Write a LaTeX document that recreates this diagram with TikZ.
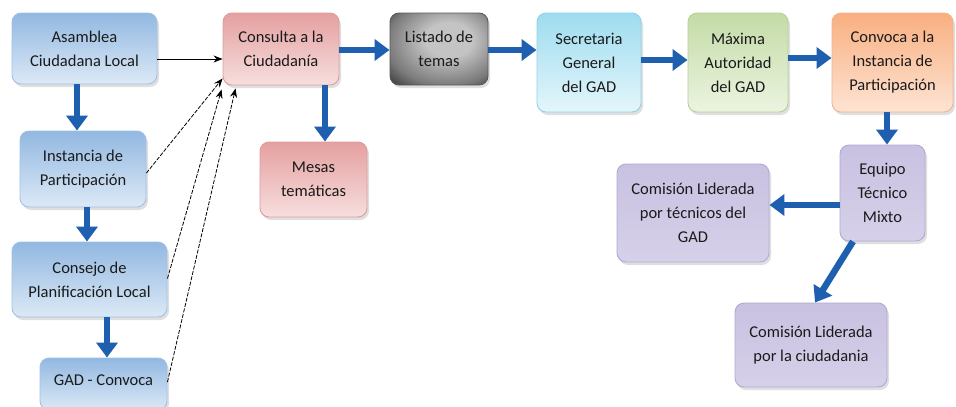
\documentclass[tikz,border=0pt]{standalone}
\usepackage{fontspec}
\setmainfont{Carlito}
\usetikzlibrary{arrows.meta,shadows,shadings,calc}
\definecolor{arrowblue}{HTML}{1F5FB0}
\definecolor{txt}{HTML}{1A1A1A}
\definecolor{bluetop}{HTML}{92B8E1}
\definecolor{bluebot}{HTML}{DCE9F6}
\definecolor{blueedge}{HTML}{9FC2E7}
\definecolor{pinktop}{HTML}{E5A0A0}
\definecolor{pinkbot}{HTML}{F7DEDE}
\definecolor{pinkedge}{HTML}{DE9C9C}
\definecolor{cyantop}{HTML}{9EDCEF}
\definecolor{cyanbot}{HTML}{E4F6FB}
\definecolor{cyanedge}{HTML}{8FD2E9}
\definecolor{greentop}{HTML}{C3DBA6}
\definecolor{greenbot}{HTML}{ECF4E1}
\definecolor{greenedge}{HTML}{B4D198}
\definecolor{orangetop}{HTML}{F9AF80}
\definecolor{orangebot}{HTML}{FDE4D4}
\definecolor{orangeedge}{HTML}{F3B38C}
\definecolor{purpletop}{HTML}{C9C1E1}
\definecolor{purplemid}{HTML}{EDEAF6}
\definecolor{purplebot}{HTML}{D6D0E9}
\definecolor{purpleedge}{HTML}{B2AAD2}
\definecolor{grayin}{HTML}{C4C4C4}
\definecolor{graymid}{HTML}{7A7A7A}
\definecolor{grayout}{HTML}{181818}
\pgfdeclareradialshading{grayglow}{\pgfpoint{6bp}{8bp}}{%
  color(0bp)=(grayin); color(12bp)=(grayin); color(30bp)=(graymid); color(44bp)=(grayout); color(70bp)=(grayout)}
\tikzset{
  box/.style={rectangle, rounded corners=9pt, line width=0.9pt, align=center,
    inner sep=0pt, text=txt, font=\fontsize{16.5}{24}\selectfont,
    drop shadow={opacity=0.25, shadow xshift=2pt, shadow yshift=-3pt}},
  bluebox/.style={box, draw=blueedge, top color=bluetop, bottom color=bluebot},
  pinkbox/.style={box, draw=pinkedge, top color=pinktop, bottom color=pinkbot},
  cyanbox/.style={box, draw=cyanedge, top color=cyantop, bottom color=cyanbot},
  greenbox/.style={box, draw=greenedge, top color=greentop, bottom color=greenbot},
  orangebox/.style={box, draw=orangeedge, top color=orangetop, bottom color=orangebot},
  purplebox/.style={box, draw=purpleedge, top color=purpletop, middle color=purplemid, bottom color=purplebot},
  graybox/.style={box, draw=gray!70!black, shading=grayglow},
  bigarrow/.style={draw=arrowblue, line width=6.5pt, -{Triangle[length=15pt,width=21pt]}, arrowblue},
  thinarrow/.style={draw=black, line width=0.8pt, -{Stealth[length=9pt,width=7pt]}},
  thindash/.style={thinarrow, dash pattern=on 4pt off 1.5pt}
}
\begin{document}
\begin{tikzpicture}[x=1pt,y=-1pt]
\useasboundingbox[fill=white] (0,0) rectangle (956,407);

\node[bluebox, minimum width=145pt, minimum height=71pt] (asam) at (84.5,48.5) {Asamblea\\Ciudadana Local};
\node[bluebox, minimum width=126pt, minimum height=76pt] (inst) at (83,169) {Instancia de\\Participación};
\node[bluebox, minimum width=155pt, minimum height=75pt] (cons) at (89.5,279.5) {Consejo de\\Planificación Local};
\node[bluebox, minimum width=127pt, minimum height=52pt] (gad) at (103.5,384) {\raisebox{7pt}{GAD - Convoca}};

\node[pinkbox, minimum width=116pt, minimum height=72pt] (consul) at (281,49) {Consulta a la\\Ciudadanía};
\node[pinkbox, minimum width=107pt, minimum height=75pt] (mesas) at (313.5,179.5) {Mesas\\temáticas};

\node[graybox, minimum width=98pt, minimum height=72pt] (list) at (439,49) {Listado de\\temas};
\node[cyanbox, minimum width=104pt, minimum height=99pt] (secre) at (589,62.5) {Secretaria\\General\\del GAD};
\node[greenbox, minimum width=100pt, minimum height=99pt] (maxi) at (738,62.5) {Máxima\\Autoridad\\del GAD};
\node[orangebox, minimum width=121pt, minimum height=99pt] (convo) at (892.5,62.5) {Convoca a la\\Instancia de\\Participación};

\node[purplebox, minimum width=85pt, minimum height=96pt] (equipo) at (882.5,193) {Equipo\\Técnico\\Mixto};
\node[purplebox, minimum width=152pt, minimum height=98pt] (comtec) at (693,213) {Comisión Liderada\\por técnicos del\\GAD};
\node[purplebox, minimum width=152pt, minimum height=84pt] (comciu) at (811,345) {Comisión Liderada\\por la ciudadania};

% thick blue arrows
\draw[bigarrow] ([xshift=-7.5pt]asam.south) -- ([xshift=-7.5pt]asam.south |- inst.north);
\draw[bigarrow] ([xshift=4pt]inst.south) -- ([xshift=4pt]inst.south |- cons.north);
\draw[bigarrow] ([xshift=17.5pt]cons.south) -- ([xshift=17.5pt]cons.south |- gad.north);
\draw[bigarrow] ([xshift=44pt]consul.south) -- ([xshift=44pt]consul.south |- mesas.north);
\draw[bigarrow] ([yshift=-1pt]consul.east) -- ([yshift=-1pt]consul.east -| list.west);
\draw[bigarrow] ([yshift=-1pt]list.east) -- ([yshift=-1pt]list.east -| secre.west);
\draw[bigarrow] ([yshift=2.5pt]secre.east) -- ([yshift=2.5pt]secre.east -| maxi.west);
\draw[bigarrow] ([yshift=4.5pt]maxi.east) -- ([yshift=4.5pt]maxi.east -| convo.west);
\draw[bigarrow] ([xshift=-5.5pt]convo.south) -- ([xshift=-5.5pt]convo.south |- equipo.north);
\draw[bigarrow] ([yshift=-12pt]equipo.west) -- ([yshift=-12pt]equipo.west -| comtec.east);
\draw[bigarrow] ([xshift=-29.5pt]equipo.south) -- ([xshift=4pt]comciu.north);

% thin black arrows
\draw[thinarrow] ([yshift=-10.5pt]asam.east) -- ([yshift=-10.5pt]asam.east -| consul.west);
\draw[thindash] ([yshift=-4pt]inst.east) -- ([yshift=7pt]consul.south west);
\draw[thindash] ([yshift=1pt]cons.east) -- ([xshift=-1pt,yshift=-4pt]consul.south west);
\draw[thindash] ([yshift=2pt]gad.east) -- ([xshift=13pt,yshift=-3pt]consul.south west);
\end{tikzpicture}
\end{document}
